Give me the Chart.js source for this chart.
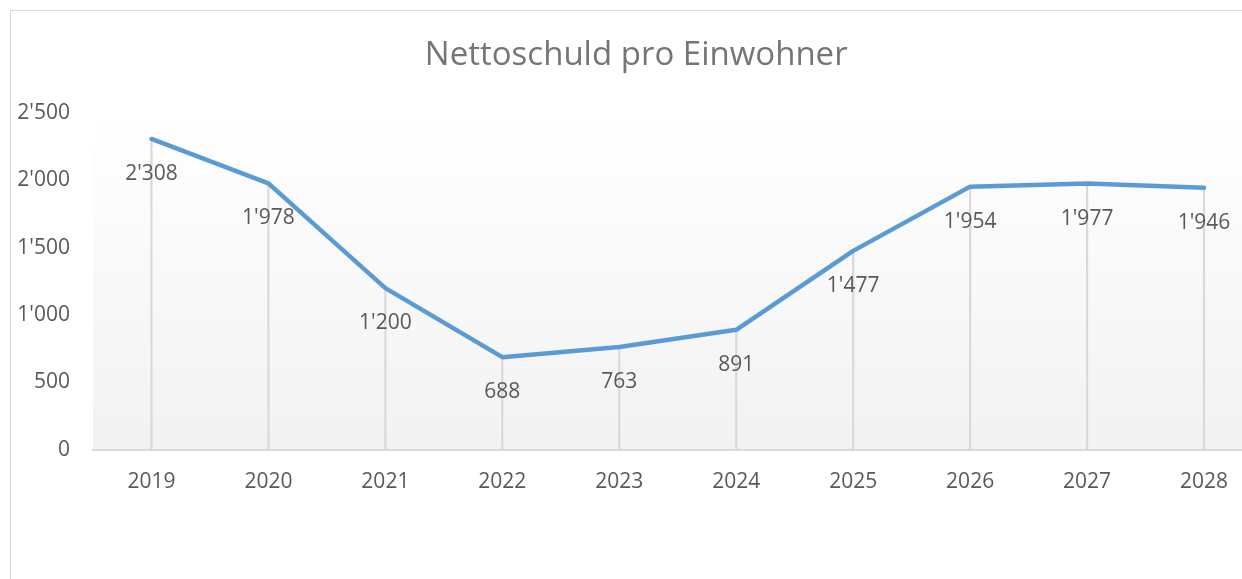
<!DOCTYPE html>
<html>
<head>
<meta charset="utf-8">
<script src="https://cdn.jsdelivr.net/npm/chart.js@4"></script>
<style>
  html, body { margin: 0; padding: 0; overflow: hidden; background: #fff; }
  #frame { position: absolute; left: 10px; top: 10px; width: 1400px; height: 700px; border: 1.5px solid #d9d9d9; }
  #box { position: absolute; left: 0; top: 0; width: 1272px; height: 579px; }
</style>
</head>
<body>
<div id="frame"></div>
<div id="box"><canvas id="chart"></canvas></div>
<script>
// Daten
const jahre = ['2019', '2020', '2021', '2022', '2023', '2024', '2025', '2026', '2027', '2028'];
const nettoschuld = [2308, 1978, 1200, 688, 763, 891, 1477, 1954, 1977, 1946];
const yTicks = [0, 500, 1000, 1500, 2000, 2500];

const fmt = v => String(v).replace(/\B(?=(\d{3})+(?!\d))/g, "'");

// Hintergrund der Zeichenfläche (Verlauf weiss -> hellgrau)
const plotBg = {
    id: 'plotBg',
    beforeDraw(chart) {
        const { ctx, chartArea: a } = chart;
        const g = ctx.createLinearGradient(0, a.top, 0, a.bottom);
        g.addColorStop(0, '#ffffff');
        g.addColorStop(1, '#f2f2f2');
        ctx.save();
        ctx.fillStyle = g;
        ctx.fillRect(a.left, a.top, a.right - a.left, a.bottom - a.top);
        ctx.restore();
    }
};

// Datenbeschriftungen unter den Punkten
const valueLabels = {
    id: 'valueLabels',
    afterDatasetsDraw(chart) {
        const ctx = chart.ctx;
        const meta = chart.getDatasetMeta(0);
        ctx.save();
        ctx.font = '21px "Open Sans"';
        ctx.fillStyle = '#595959';
        ctx.textAlign = 'center';
        ctx.textBaseline = 'middle';
        meta.data.forEach((pt, i) => {
            ctx.fillText(fmt(nettoschuld[i]), pt.x, pt.y + 35);
        });
        ctx.restore();
    }
};

const ctx = document.getElementById('chart').getContext('2d');
const chart = new Chart(ctx, {
    data: {
        labels: jahre,
        datasets: [{
            type: 'line',
            data: nettoschuld,
            borderColor: '#5b9bd5',
            borderWidth: 4.5,
            borderCapStyle: 'round',
            borderJoinStyle: 'round',
            pointRadius: 0,
            tension: 0,
            order: 0
        }, {
            // Lotlinien
            type: 'bar',
            data: nettoschuld,
            backgroundColor: '#d9d9d9',
            barThickness: 1.5,
            order: 1
        }]
    },
    options: {
        responsive: true,
        maintainAspectRatio: false,
        animation: false,
        layout: { padding: { left: 10, right: 9.5, top: 0, bottom: 64 } },
        plugins: {
            legend: { display: false },
            tooltip: { enabled: false },
            title: {
                display: true,
                text: 'Nettoschuld pro Einwohner',
                color: '#757575',
                font: { family: 'Open Sans', size: 33, weight: 'normal', lineHeight: 1.2 },
                padding: { top: 36, bottom: 37.5 }
            }
        },
        scales: {
            x: {
                offset: true,
                grid: { display: false, drawTicks: false },
                border: { display: true, color: '#d9d9d9', width: 2 },
                ticks: { color: '#595959', padding: 20, font: { family: 'Open Sans', size: 21 } }
            },
            y: {
                min: 0,
                max: 2500,
                afterFit(scale) { scale.width = 83; },
                afterBuildTicks(scale) { scale.ticks = yTicks.map(v => ({ value: v })); },
                grid: { display: false, drawTicks: false },
                border: { display: false },
                ticks: {
                    color: '#595959',
                    padding: 23,
                    font: { family: 'Open Sans', size: 21 },
                    callback: v => fmt(v)
                }
            }
        }
    },
    plugins: [plotBg, valueLabels]
});
</script>
</body>
</html>
